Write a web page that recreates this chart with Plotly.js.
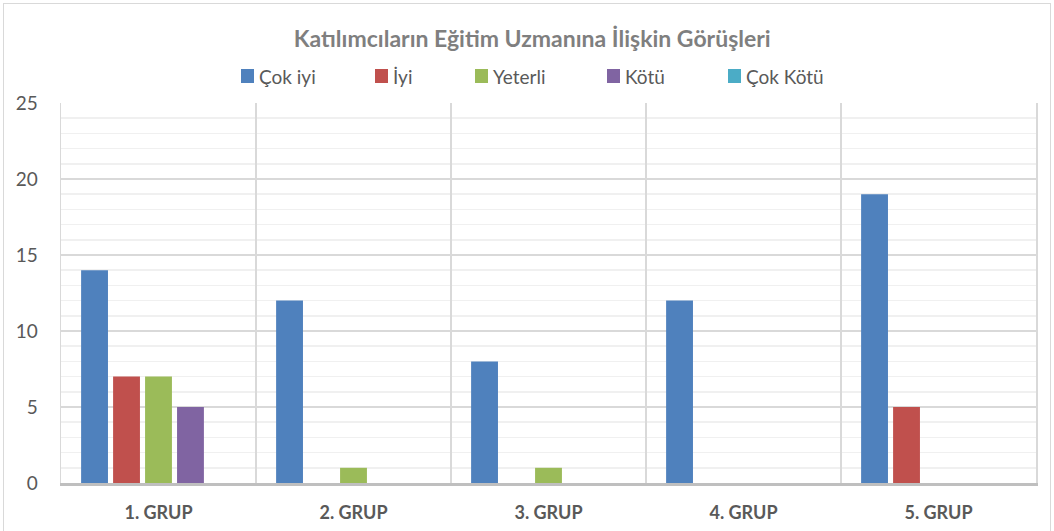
<!DOCTYPE html>
<html>
<head>
<meta charset="utf-8">
<script src="https://cdn.plot.ly/plotly-3.0.1.min.js"></script>
<style>
html,body{margin:0;padding:0;background:#fff;}
#wrap{position:absolute;left:0;top:0;width:1054px;height:531px;}
#frame{position:absolute;left:3px;top:3px;width:1048px;height:528px;border-top:1.5px solid #d9d9d9;border-left:1.5px solid #d9d9d9;border-right:1.5px solid #d9d9d9;box-sizing:border-box;pointer-events:none;z-index:5;}
#chart{position:absolute;left:0;top:0;width:1054px;height:531px;}
</style>
</head>
<body>
<div id="wrap"><div id="chart"></div><div id="frame"></div></div>
<script>
const categories = ["1. GRUP", "2. GRUP", "3. GRUP", "4. GRUP", "5. GRUP"];
const seriesNames = ["Çok iyi", "İyi", "Yeterli", "Kötü", "Çok Kötü"];
const cokIyi = [14, 12, 8, 12, 19];
const iyi = [7, 0, 0, 0, 5];
const yeterli = [7, 1, 1, 0, 0];
const kotu = [5, 0, 0, 0, 0];
const cokKotu = [0, 0, 0, 0, 0];
const yTicks = [0, 5, 10, 15, 20, 25];
const colors = ["#4f81bd", "#c0504d", "#9bbb59", "#8064a2", "#4bacc6"];
const titleText = "Katılımcıların Eğitim Uzmanına İlişkin Görüşleri";

const values = [cokIyi, iyi, yeterli, kotu, cokKotu];
const FONT = "Lato, 'Open Sans', sans-serif";

// plot-area geometry (pixels)
const W = 1054, H = 531;
const M = {l: 61, r: 18, t: 103, b: 48};
const PW = W - M.l - M.r, PH = H - M.t - M.b;
const px2x = p => (p - M.l) / PW;
const py2y = p => (H - M.b - p) / PH;

// custom legend layout (pixel left edges of the swatches)
const legendSwatchX = [241, 375, 475, 607, 728];
const legendTop = 69, legendBottom = 83;

const traces = values.map((v, i) => ({
  type: "bar",
  name: seriesNames[i],
  x: categories,
  y: v,
  marker: {color: colors[i], line: {width: 0}},
  showlegend: false,
  hoverinfo: "x+y+name"
}));

const shapes = [];
const annotations = [];
seriesNames.forEach((name, i) => {
  const sx = legendSwatchX[i];
  shapes.push({
    type: "rect", xref: "paper", yref: "paper",
    x0: px2x(sx), x1: px2x(sx + 13),
    y0: py2y(legendBottom), y1: py2y(legendTop),
    fillcolor: colors[i], line: {width: 0}
  });
  annotations.push({
    xref: "paper", yref: "paper",
    x: px2x(sx + 16), y: py2y((legendTop + legendBottom) / 2 + 0.5),
    xanchor: "left", yanchor: "middle",
    text: name, showarrow: false,
    font: {family: FONT, size: 19, color: "#595959"}
  });
});

const layout = {
  width: W, height: H,
  margin: {l: M.l, r: M.r, t: M.t, b: M.b, pad: 0},
  paper_bgcolor: "#ffffff",
  plot_bgcolor: "#ffffff",
  barmode: "group",
  bargap: 0.18,
  bargroupgap: 0.16,
  title: {
    text: "<b>" + titleText + "</b>",
    font: {family: FONT, size: 23, color: "#7f7f7f"},
    x: 0.505, xanchor: "center", y: 1 - 39 / H, yanchor: "middle", yref: "container"
  },
  showlegend: false,
  shapes: shapes,
  annotations: annotations,
  xaxis: {
    type: "category",
    tickson: "boundaries",
    showgrid: true,
    gridcolor: "#d9d9d9",
    gridwidth: 1.5,
    showline: true,
    linecolor: "#bfbfbf",
    linewidth: 3,
    ticks: "",
    tickfont: {family: FONT, size: 18, color: "#595959", weight: "bold"},
    ticklabelstandoff: 11,
    zeroline: false,
    fixedrange: true
  },
  yaxis: {
    range: [0, 25],
    tickvals: yTicks,
    ticktext: yTicks.map(String),
    showgrid: true,
    gridcolor: "#d9d9d9",
    gridwidth: 1.5,
    minor: {dtick: 1, showgrid: true, gridcolor: "#f0f0f0", gridwidth: 1.5, ticks: ""},
    showline: true,
    linecolor: "#d9d9d9",
    linewidth: 1.5,
    mirror: true,
    zeroline: false,
    ticks: "",
    tickfont: {family: FONT, size: 19, color: "#595959"},
    ticklabelstandoff: 18,
    fixedrange: true
  }
};

Plotly.newPlot("chart", traces, layout, {displayModeBar: false, staticPlot: true});
</script>
</body>
</html>
